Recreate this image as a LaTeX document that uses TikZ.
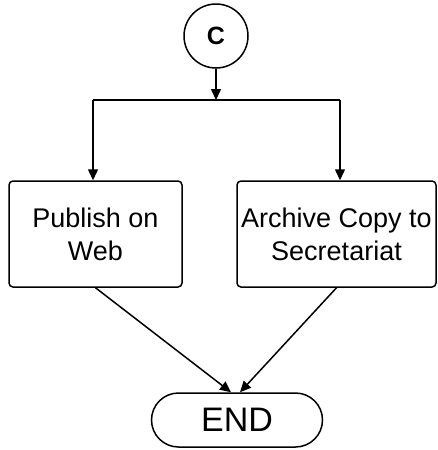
\documentclass[tikz,border=0pt]{standalone}
\usepackage{fontspec}
\setmainfont{Liberation Sans}
\usetikzlibrary{arrows.meta,shapes.misc}
\begin{document}
\begin{tikzpicture}[x=1pt,y=-1pt,
  line width=1.5pt,
  arr/.style={-{Triangle[length=11pt,width=10pt]}},
  procbox/.style={draw,rounded corners=4pt,minimum width=173pt,minimum height=106pt,inner sep=0pt,align=center,font=\fontsize{27}{33}\selectfont},
  conn/.style={draw,circle,minimum size=64pt,inner sep=0pt,font=\bfseries\fontsize{25}{28}\selectfont},
  term/.style={draw,rounded rectangle,minimum width=171pt,minimum height=54pt,inner sep=0pt,font=\fontsize{34}{38}\selectfont}]
\useasboundingbox (0,0) rectangle (437,450);
\node[conn] (c) at (216,36) {C};
\node[procbox] (pub) at (95.5,234) {Publish on\\Web};
\node[procbox,minimum width=199pt] (arc) at (336.5,234) {Archive Copy to\\Secretariat};
\node[term] (end) at (237,420) {END};
\coordinate (j) at (216,100);
\coordinate (jl) at (93,100);
\coordinate (jr) at (340,100);
\draw[arr] (c.south) -- (j);
\draw (jl) -- (jr);
\draw[arr] (jl) -- (jl |- pub.north);
\draw[arr] (jr) -- (jr |- arc.north);
\draw[arr] (pub.south) -- ([xshift=-6pt]end.north);
\draw[arr] (arc.south) -- ([xshift=3pt]end.north);
\end{tikzpicture}
\end{document}
